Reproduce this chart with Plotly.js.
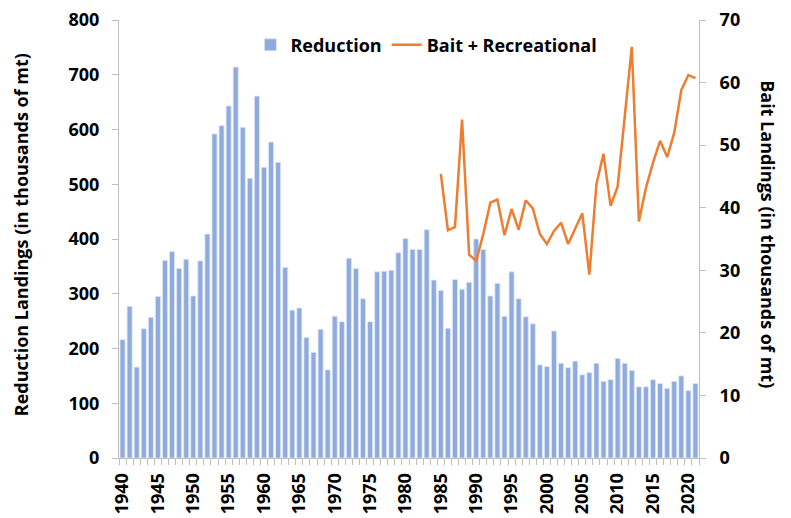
<!DOCTYPE html>
<html>
<head>
<meta charset="utf-8">
<script src="https://cdn.plot.ly/plotly-3.0.1.min.js"></script>
<style>html,body{margin:0;padding:0;background:#fff;}#chart{width:791px;height:518px;}</style>
</head>
<body>
<div id="chart"></div>
<script>
// Reduction landings (thousands of mt), 1940-2021
const reductionYears = [];
for (let y = 1940; y <= 2021; y++) reductionYears.push(y);
const reductionValues = [
  216, 277, 166, 236, 257, 295, 361, 377, 346, 363,
  296, 360, 409, 592, 607, 643, 714, 604, 511, 661,
  531, 577, 540, 348, 270, 274, 220, 193, 235, 161,
  259, 249, 365, 346, 291, 249, 340, 341, 343, 375,
  401, 381, 381, 417, 325, 306, 237, 326, 308, 321,
  400, 381, 296, 319, 259, 340, 291, 258, 245, 170,
  167, 232, 173, 165, 177, 152, 156, 173, 140, 143,
  182, 173, 160, 130, 130, 143, 136, 127, 140, 150,
  123, 136
];
// Bait + Recreational landings (thousands of mt), 1985-2021
const baitYears = [];
for (let y = 1985; y <= 2021; y++) baitYears.push(y);
const baitValues = [
  45.4, 36.4, 36.9, 54.1, 32.5, 31.5, 35.8, 40.8, 41.3, 35.6,
  39.8, 36.5, 41.2, 39.9, 35.8, 34.2, 36.3, 37.6, 34.2, 36.6,
  39.1, 29.3, 43.8, 48.6, 40.3, 43.4, 54.5, 65.7, 37.8, 43.2,
  47.2, 50.7, 48.1, 52.0, 58.8, 61.2, 60.7
];
const xTickVals = [1940,1945,1950,1955,1960,1965,1970,1975,1980,1985,1990,1995,2000,2005,2010,2015,2020];
const xTickText = xTickVals.map(String);
const leftTitle = 'Reduction Landings (in thousands of mt)';
const rightTitle = 'Bait Landings (in thousands of mt)';

const FONT = '"Open Sans", Lato, "Liberation Sans", sans-serif';
const axisGrey = '#bfbfbf';

const traces = [
  {
    type: 'bar', name: 'Reduction',
    x: reductionYears, y: reductionValues,
    marker: {color: '#8faadc', line: {color: '#dde6f5', width: 0.8}},
    yaxis: 'y'
  },
  {
    type: 'scatter', mode: 'lines', name: 'Bait + Recreational',
    x: baitYears, y: baitValues,
    line: {color: '#ed7d31', width: 2.5},
    yaxis: 'y2'
  }
];

const layout = {
  width: 791, height: 518,
  margin: {l: 119, r: 92, t: 20, b: 60},
  paper_bgcolor: '#fff', plot_bgcolor: '#fff',
  font: {family: FONT, size: 18, color: '#000', weight: 700},
  bargap: 0.29,
  showlegend: true,
  legend: {
    orientation: 'h', x: 0.53, xanchor: 'center', y: 0.985, yanchor: 'top',
    font: {family: FONT, size: 18, weight: 700, color: '#000'},
    bgcolor: 'rgba(255,255,255,0)', itemwidth: 30, tracegroupgap: 0
  },
  xaxis: {
    range: [1939.5, 2021.5],
    tickmode: 'array', tickvals: xTickVals, ticktext: xTickText,
    tickangle: -90, ticks: '', ticklabelstandoff: 7,
    tickfont: {family: FONT, size: 18, weight: 700},
    showline: true, linecolor: axisGrey, linewidth: 1,
    showgrid: false, zeroline: false,
    minor: {tick0: 1939.5, dtick: 1, ticks: 'outside', ticklen: 6, tickcolor: axisGrey, tickwidth: 1, showgrid: false}
  },
  yaxis: {
    range: [0, 800], dtick: 100, tick0: 0,
    ticks: 'outside', ticklen: 6, tickcolor: axisGrey, ticklabelstandoff: 9,
    tickfont: {family: FONT, size: 18, weight: 700},
    showline: true, linecolor: axisGrey, linewidth: 1,
    showgrid: false, zeroline: false
  },
  yaxis2: {
    range: [0, 70], dtick: 10, tick0: 0,
    overlaying: 'y', side: 'right',
    ticks: 'outside', ticklen: 6, tickcolor: axisGrey, ticklabelstandoff: 10,
    tickfont: {family: FONT, size: 18, weight: 700},
    showline: true, linecolor: axisGrey, linewidth: 1,
    showgrid: false, zeroline: false
  },
  annotations: [
    {
      text: leftTitle, xref: 'paper', yref: 'paper',
      x: -0.169, y: 0.511, xanchor: 'center', yanchor: 'middle',
      textangle: -90, showarrow: false,
      font: {family: FONT, size: 18, weight: 700, color: '#000'}
    },
    {
      text: rightTitle, xref: 'paper', yref: 'paper',
      x: 1.119, y: 0.511, xanchor: 'center', yanchor: 'middle',
      textangle: 90, showarrow: false,
      font: {family: FONT, size: 18, weight: 700, color: '#000'}
    }
  ]
};

Plotly.newPlot('chart', traces, layout, {displayModeBar: false, staticPlot: true});
</script>
</body>
</html>
